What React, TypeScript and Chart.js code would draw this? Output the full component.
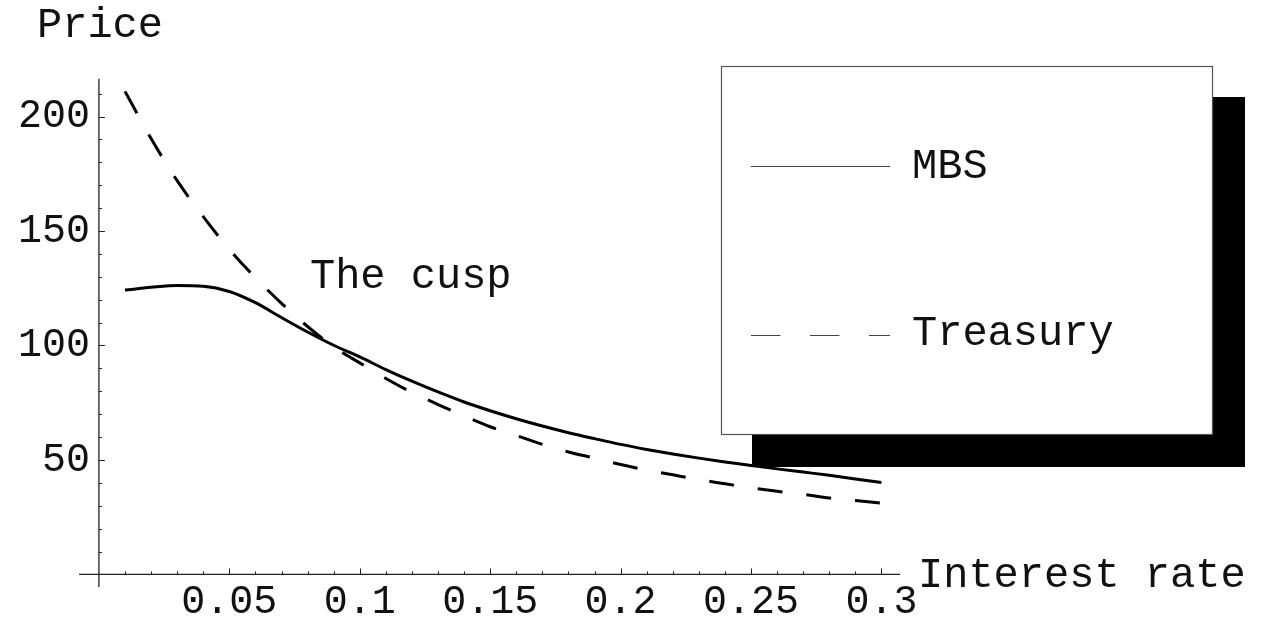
import React, { useEffect, useRef } from "react";
import { Chart, registerables } from "chart.js";

Chart.register(...registerables);

// ---------- data ----------
const rates = [
  0.01, 0.02, 0.03, 0.04, 0.05, 0.06, 0.07, 0.08, 0.09, 0.1,
  0.11, 0.12, 0.13, 0.14, 0.15, 0.16, 0.17, 0.18, 0.19, 0.2,
  0.21, 0.22, 0.23, 0.24, 0.25, 0.26, 0.27, 0.28, 0.29, 0.3,
];
const mbsPrices = [
  124.2, 125.4, 126.2, 125.9, 123.6, 118.7, 112.2, 105.9, 100.1, 95.0,
  89.5, 84.4, 79.7, 75.3, 71.5, 68.0, 64.8, 61.9, 59.3, 56.8,
  54.6, 52.6, 50.8, 49.1, 47.6, 46.1, 44.7, 43.3, 41.7, 40.1,
];
const treasuryPrices = [
  211.0, 190.4, 172.0, 156.3, 142.0, 129.6, 118.4, 108.3, 99.4, 92.4,
  85.6, 79.5, 74.2, 69.2, 64.5, 60.7, 56.8, 53.5, 50.8, 48.0,
  45.6, 43.5, 41.4, 39.6, 37.8, 36.3, 35.0, 33.4, 32.3, 31.1,
];
const seriesNames = ["MBS", "Treasury"];
const xTickValues = [0.05, 0.1, 0.15, 0.2, 0.25, 0.3];
const xTickLabels = ["0.05", "0.1", "0.15", "0.2", "0.25", "0.3"];
const yTickValues = [50, 100, 150, 200];
const yTickLabels = ["50", "100", "150", "200"];
const xMinorStep = 0.01;
const yMinorStep = 10;
const xAxisTitle = "Interest rate";
const yAxisTitle = "Price";
const annotationText = "The cusp";
const annotationX = 0.0809;
const annotationY = 125.1;

// plot range (Mathematica-like padding around the axes origin)
const X_MIN = 0;
const X_MAX = 0.3071;
const Y_MIN = 0;
const Y_MAX = 216.5;
const X_AXIS_START = -0.0076;
const Y_AXIS_START = -5.5;

const FONT = '"Liberation Mono", "DejaVu Sans Mono", monospace';
const TICK_FONT_SIZE = 40;
const TEXT_FONT_SIZE = 42;

const mathPlugin = {
  id: "mathAxes",
  afterDatasetsDraw(chart: any) {
    const { ctx } = chart;
    const x = chart.scales.x;
    const y = chart.scales.y;
    const x0 = x.getPixelForValue(0);
    const y0 = y.getPixelForValue(0);
    ctx.save();
    ctx.strokeStyle = "#222";
    ctx.lineWidth = 1.3;
    ctx.beginPath();
    ctx.moveTo(x.getPixelForValue(X_AXIS_START), y0);
    ctx.lineTo(x.right, y0);
    ctx.moveTo(x0, y.getPixelForValue(Y_AXIS_START));
    ctx.lineTo(x0, y.top);
    ctx.stroke();

    ctx.lineWidth = 1;
    ctx.beginPath();
    // x ticks (inward, upward)
    for (let i = 1; i * xMinorStep <= X_MAX + 1e-9; i++) {
      const v = i * xMinorStep;
      const major = xTickValues.some((t) => Math.abs(t - v) < 1e-6);
      const px = Math.round(x.getPixelForValue(v)) + 0.5;
      ctx.moveTo(px, y0);
      ctx.lineTo(px, y0 - (major ? 6 : 3));
    }
    // y ticks (inward, rightward)
    for (let i = 1; i * yMinorStep <= Y_MAX + 1e-9; i++) {
      const v = i * yMinorStep;
      const major = yTickValues.some((t) => Math.abs(t - v) < 1e-6);
      const py = Math.round(y.getPixelForValue(v)) + 0.5;
      ctx.moveTo(x0, py);
      ctx.lineTo(x0 + (major ? 6 : 3), py);
    }
    ctx.stroke();

    ctx.fillStyle = "#111";
    ctx.font = `${TEXT_FONT_SIZE}px ${FONT}`;
    ctx.textAlign = "left";
    ctx.textBaseline = "alphabetic";
    ctx.fillText(xAxisTitle, x.right + 18, y0 + 13);
    ctx.fillText(yAxisTitle, 37, y.top - 42);
    ctx.fillText(
      annotationText,
      x.getPixelForValue(annotationX),
      y.getPixelForValue(annotationY)
    );
    ctx.restore();
  },
  afterDraw(chart: any) {
    const { ctx } = chart;
    ctx.save();
    // shadow
    ctx.fillStyle = "#000";
    ctx.fillRect(752, 97, 493, 370);
    // box
    ctx.fillStyle = "#fff";
    ctx.fillRect(721, 66, 492, 369);
    ctx.strokeStyle = "#555";
    ctx.lineWidth = 1.2;
    ctx.strokeRect(721.5, 66.5, 491, 368);

    ctx.strokeStyle = "#444";
    ctx.lineWidth = 1;
    ctx.beginPath();
    ctx.moveTo(751, 166.5);
    ctx.lineTo(890, 166.5);
    ctx.stroke();
    ctx.setLineDash([29.5, 29.5]);
    ctx.beginPath();
    ctx.moveTo(751, 335.5);
    ctx.lineTo(890, 335.5);
    ctx.stroke();
    ctx.setLineDash([]);

    ctx.fillStyle = "#111";
    ctx.font = `${TEXT_FONT_SIZE}px ${FONT}`;
    ctx.textAlign = "left";
    ctx.textBaseline = "alphabetic";
    ctx.fillText(seriesNames[0], 912, 178);
    ctx.fillText(seriesNames[1], 912, 345);
    ctx.restore();
  },
};

export default function App() {
  const canvasRef = useRef<HTMLCanvasElement | null>(null);

  useEffect(() => {
    if (!canvasRef.current) return;
    const chart = new Chart(canvasRef.current, {
      type: "line",
      data: {
        datasets: [
          {
            label: seriesNames[0],
            data: rates.map((r, i) => ({ x: r, y: mbsPrices[i] })),
            borderColor: "#000",
            borderWidth: 3,
            pointRadius: 0,
            cubicInterpolationMode: "monotone",
            fill: false,
          },
          {
            label: seriesNames[1],
            data: rates.map((r, i) => ({ x: r, y: treasuryPrices[i] })),
            borderColor: "#000",
            borderWidth: 3,
            borderDash: [25, 24],
            pointRadius: 0,
            cubicInterpolationMode: "monotone",
            fill: false,
          },
        ],
      },
      options: {
        animation: false,
        responsive: true,
        maintainAspectRatio: false,
        layout: { padding: { left: 0, top: 78.8, right: 361, bottom: 0 } },
        plugins: {
          legend: { display: false },
          tooltip: { enabled: false },
        },
        scales: {
          x: {
            type: "linear",
            min: X_MIN,
            max: X_MAX,
            grid: { display: false, drawTicks: false },
            border: { display: false },
            afterBuildTicks: (scale: any) => {
              scale.ticks = xTickValues.map((v) => ({ value: v }));
            },
            afterFit: (scale: any) => {
              scale.height = 46.6;
            },
            ticks: {
              color: "#111",
              padding: 4,
              maxRotation: 0,
              autoSkip: false,
              font: { family: FONT, size: TICK_FONT_SIZE },
              callback: (v: any) => {
                const i = xTickValues.findIndex((t) => Math.abs(t - v) < 1e-6);
                return i >= 0 ? xTickLabels[i] : "";
              },
            },
          },
          y: {
            type: "linear",
            min: Y_MIN,
            max: Y_MAX,
            grid: { display: false, drawTicks: false },
            border: { display: false },
            afterBuildTicks: (scale: any) => {
              scale.ticks = yTickValues.map((v) => ({ value: v }));
            },
            afterFit: (scale: any) => {
              scale.width = 98.9;
            },
            ticks: {
              color: "#111",
              padding: 9,
              autoSkip: false,
              font: { family: FONT, size: TICK_FONT_SIZE },
              callback: (v: any) => {
                const i = yTickValues.findIndex((t) => Math.abs(t - v) < 1e-6);
                return i >= 0 ? yTickLabels[i] : "";
              },
            },
          },
        },
      },
      plugins: [mathPlugin],
    } as any);
    return () => chart.destroy();
  }, []);

  return (
    <div
      style={{
        position: "fixed",
        left: 0,
        top: 0,
        width: "1261px",
        height: "621px",
        background: "#fff",
      }}
    >
      <canvas ref={canvasRef} />
    </div>
  );
}
